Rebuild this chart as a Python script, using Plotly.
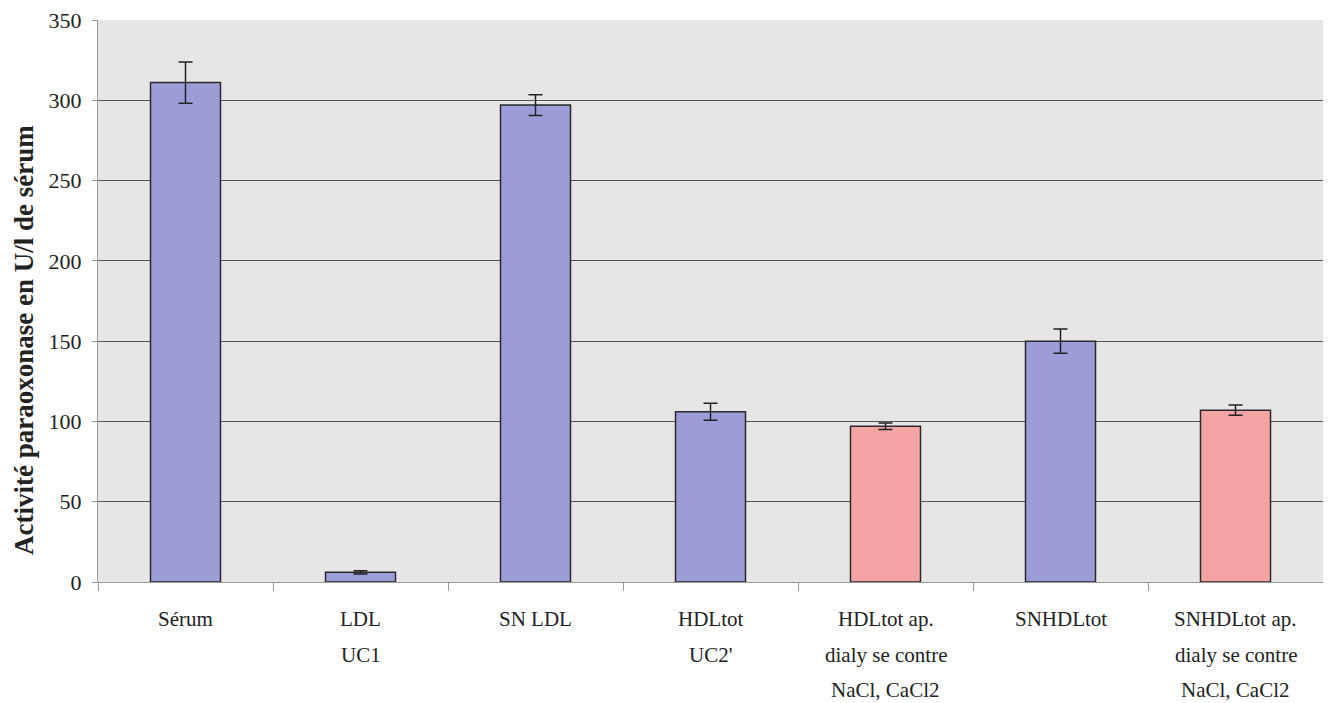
import plotly.graph_objects as go

categories = ["Sérum", "LDL UC1", "SN LDL", "HDLtot UC2'",
              "HDLtot ap. dialyse NaCl, CaCl2", "SNHDLtot",
              "SNHDLtot ap. dialyse NaCl, CaCl2"]
label_lines = [["Sérum"], ["LDL", "UC1"], ["SN LDL"], ["HDLtot", "UC2'"],
               ["HDLtot ap.", "dialy se contre", "NaCl, CaCl2"], ["SNHDLtot"],
               ["SNHDLtot ap.", "dialy se contre", "NaCl, CaCl2"]]
values = [311, 6, 297, 106, 97, 150, 107]
errors = [12.9, 1.0, 6.5, 5.3, 2.0, 7.5, 3.2]
colors = ["#9c9cd8", "#9c9cd8", "#9c9cd8", "#9c9cd8", "#f4a4a2", "#9c9cd8", "#f4a4a2"]
y_ticks = [0, 50, 100, 150, 200, 250, 300, 350]
y_title = "Activité paraoxonase en U/l de sérum"

fig = go.Figure(go.Bar(
    x=categories, y=values,
    marker=dict(color=colors, line=dict(color="#2a2a2a", width=1.5)),
    width=0.4,
    error_y=dict(type="data", array=errors, visible=True, color="#222222",
                 thickness=1.5, width=7),
))

annotations = []
for cat, lines in zip(categories, label_lines):
    for i, line in enumerate(lines):
        annotations.append(dict(
            x=cat, xref="x", y=0, yref="paper", yanchor="middle",
            yshift=-37 - 35.5 * i, text=line, showarrow=False,
            font=dict(family="Liberation Serif", size=21, color="#222222"),
        ))
annotations.append(dict(
    x=0, xref="paper", xshift=-74, y=0.4306, yref="paper",
    text="<b>" + y_title + "</b>", textangle=-90, showarrow=False,
    xanchor="center", yanchor="middle",
    font=dict(family="Liberation Serif", size=27, color="#222222"),
))

fig.update_layout(
    width=1323, height=695,
    margin=dict(l=90, r=8, t=12, b=121),
    paper_bgcolor="white",
    plot_bgcolor="#e8e5e7",
    font=dict(family="Liberation Serif", color="#222222"),
    showlegend=False,
    annotations=annotations,
)
fig.update_xaxes(
    type="category", tickson="boundaries", ticks="outside", ticklen=8,
    tickcolor="#999999", showline=True, linecolor="#999999", linewidth=1,
    showticklabels=False, showgrid=False, automargin=False,
)
fig.update_yaxes(
    range=[0, 350], tickvals=y_ticks, ticks="outside", ticklen=5,
    tickcolor="#999999", showline=True, linecolor="#999999",
    gridcolor="#555555", gridwidth=1, tickfont=dict(size=22),
    ticklabelstandoff=6, ticklabeloverflow="allow", zeroline=False,
    automargin=False,
)

fig.write_html("out.html")
